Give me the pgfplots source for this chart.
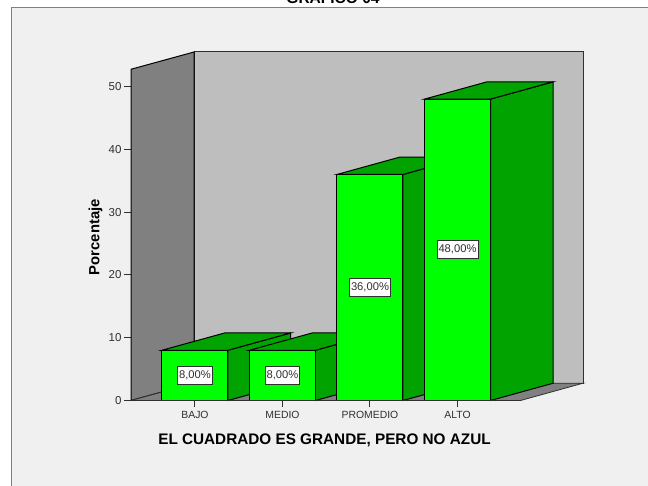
\documentclass[border=0pt]{standalone}
\usepackage{pgfplots}
\pgfplotsset{compat=1.18}
\usepackage{fontspec}
\setmainfont{Liberation Sans}
\definecolor{bgc}{HTML}{F0F0F0}
\definecolor{wall}{HTML}{BEBEBE}
\definecolor{dwall}{HTML}{808080}
\definecolor{barf}{HTML}{00FF00}
\definecolor{bard}{HTML}{00A300}
\definecolor{axc}{HTML}{303030}
\tikzset{vlab/.style={draw=axc,line width=0.9pt,fill=white,inner xsep=1.5pt,inner ysep=0pt,minimum height=18pt,font=\fontsize{11.2}{12}\selectfont,text=axc}}
\begin{document}
\begin{tikzpicture}[x=1pt,y=1pt]
\clip (0,0) rectangle (648,486);
\fill[white] (0,0) rectangle (648,486);
\fill[bgc] (11,0) rectangle (648,479);
\draw[gray,line width=1.5pt] (11.5,0) -- (11.5,478.5) -- (648,478.5);
\node[font=\bfseries\fontsize{15.5}{17}\selectfont,anchor=base] at (333,482.7) {GRAFICO 04};
\begin{axis}[
  at={(131pt,85.5pt)},anchor=south west,
  scale only axis,width=452pt,height=348.5pt,
  xmin=-0.731,xmax=4.434,ymin=0,ymax=55.5,
  axis line style={draw=none},
  tick align=outside,xtick pos=bottom,ytick pos=left,
  major tick length=7pt,
  tick style={axc,line width=1pt},
  xtick={0,1,2,3},xticklabels={BAJO,MEDIO,PROMEDIO,ALTO},
  ytick={0,10,20,30,40,50},
  /pgf/number format/assume math mode=true,
  xticklabel style={font=\fontsize{10.4}{12}\selectfont,text=axc},
  yticklabel style={font=\fontsize{11.5}{13}\selectfont,text=axc,xshift=1pt},
  xlabel={EL CUADRADO ES GRANDE, PERO NO AZUL},
  xlabel style={font=\bfseries\fontsize{15.3}{18}\selectfont,at={(axis cs:1.48,0)},anchor=north,yshift=-30pt},
  ylabel={Porcentaje},
  ylabel style={font=\bfseries\fontsize{14.8}{18}\selectfont,at={(axis cs:-1.135,26)},anchor=center},
  clip=false,
]
% walls and floor
\addplot[draw=axc,line width=1pt,fill=wall] coordinates {(-0.011,2.75) (4.434,2.75) (4.434,55.5) (-0.011,55.5)} -- cycle;
\addplot[draw=black,line width=1pt,fill=dwall] coordinates {(-0.731,0) (-0.011,2.75) (-0.011,55.5) (-0.731,52.75)} -- cycle;
\addplot[draw=axc,line width=0.8pt,fill=dwall] coordinates {(-0.731,0) (3.72,0) (4.434,2.75) (-0.011,2.75)} -- cycle;
% BAJO
\addplot[draw=black,line width=1pt,fill=bard] coordinates {(0.377,0) (1.092,2.75) (1.092,10.75) (0.377,8)} -- cycle;
\addplot[draw=black,line width=1pt,fill=bard] coordinates {(-0.377,8) (0.338,10.75) (1.092,10.75) (0.377,8)} -- cycle;
\addplot[ybar,bar shift=0pt,bar width=66pt,draw=black,line width=1pt,fill=barf] coordinates {(0,8)};
% MEDIO
\addplot[draw=black,line width=1pt,fill=bard] coordinates {(1.377,0) (2.092,2.75) (2.092,10.75) (1.377,8)} -- cycle;
\addplot[draw=black,line width=1pt,fill=bard] coordinates {(0.623,8) (1.338,10.75) (2.092,10.75) (1.377,8)} -- cycle;
\addplot[ybar,bar shift=0pt,bar width=66pt,draw=black,line width=1pt,fill=barf] coordinates {(1,8)};
% PROMEDIO
\addplot[draw=black,line width=1pt,fill=bard] coordinates {(2.377,0) (3.092,2.75) (3.092,38.75) (2.377,36)} -- cycle;
\addplot[draw=black,line width=1pt,fill=bard] coordinates {(1.623,36) (2.338,38.75) (3.092,38.75) (2.377,36)} -- cycle;
\addplot[ybar,bar shift=0pt,bar width=66pt,draw=black,line width=1pt,fill=barf] coordinates {(2,36)};
% ALTO
\addplot[draw=black,line width=1pt,fill=bard] coordinates {(3.377,0) (4.092,2.75) (4.092,50.75) (3.377,48)} -- cycle;
\addplot[draw=black,line width=1pt,fill=bard] coordinates {(2.623,48) (3.338,50.75) (4.092,50.75) (3.377,48)} -- cycle;
\addplot[ybar,bar shift=0pt,bar width=66pt,draw=black,line width=1pt,fill=barf] coordinates {(3,48)};
% front floor edge
\addplot[draw=axc,line width=1pt] coordinates {(-0.731,0) (3.72,0)};
% labels
\node[vlab] at (axis cs:0,4) {8,00\%};
\node[vlab] at (axis cs:1,4) {8,00\%};
\node[vlab] at (axis cs:2,18) {36,00\%};
\node[vlab] at (axis cs:3,24) {48,00\%};
\end{axis}
\end{tikzpicture}
\end{document}
